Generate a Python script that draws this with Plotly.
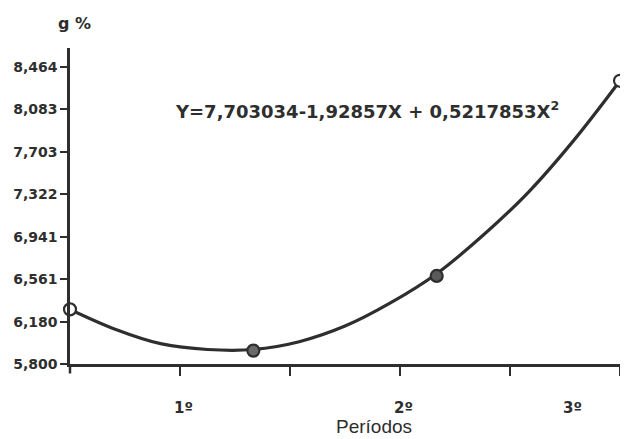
import plotly.graph_objects as go

# Observed points (period index X = 1..4)
point_x = [1, 2, 3, 4]
point_y = [6.29, 5.92, 6.59, 8.34]
point_fill = ["white", "#6a6a6a", "#5a5a5a", "white"]

# Fitted curve, values
curve_x = [1, 1.25, 1.5, 1.75, 2, 2.25, 2.5, 2.75, 3, 3.25, 3.5, 3.75, 4]
curve_y = [6.29, 6.11, 5.98, 5.93, 5.93, 6.00, 6.14, 6.35, 6.61, 6.95, 7.34, 7.81, 8.34]

y_ticks = [5.800, 6.180, 6.561, 6.941, 7.322, 7.703, 8.083, 8.464]
y_labels = ["5,800", "6,180", "6,561", "6,941", "7,322", "7,703", "8,083", "8,464"]

x_ticks = [1.6, 2.2, 2.8, 3.4, 4.0]
period_pos = [1.62, 2.82, 3.74]
period_labels = ["1º", "2º", "3º"]

ink = "#2e2e2e"
font_fam = "DejaVu Sans, Liberation Sans, sans-serif"
font_lab = "Liberation Sans, Arial, sans-serif"

fig = go.Figure()
fig.add_trace(go.Scatter(x=curve_x, y=curve_y, mode="lines",
                         line=dict(color=ink, width=3.2, shape="spline", smoothing=1.0),
                         hoverinfo="skip", showlegend=False, cliponaxis=False))
fig.add_trace(go.Scatter(x=point_x, y=point_y, mode="markers",
                         marker=dict(size=12, color=point_fill, line=dict(color=ink, width=2.2)),
                         showlegend=False, cliponaxis=False))

fig.update_xaxes(range=[1, 4.0], showline=True, linecolor=ink, linewidth=2.5,
                 tickmode="array", tickvals=x_ticks, showticklabels=False,
                 ticks="outside", ticklen=9, tickwidth=2.2, tickcolor=ink,
                 showgrid=False, zeroline=False)
fig.update_yaxes(range=[5.8, 8.634], showline=True, linecolor=ink, linewidth=2.5,
                 tickmode="array", tickvals=y_ticks, ticktext=["<b>%s</b>" % t for t in y_labels],
                 ticks="outside", ticklen=7, tickwidth=2, tickcolor=ink,
                 tickfont=dict(family=font_fam, size=14, color=ink),
                 showgrid=False, zeroline=False, automargin=False)

# y-axis line continues a little below the x-axis
fig.add_shape(type="line", xref="paper", yref="paper", x0=0, x1=0, y0=-0.03, y1=0,
              line=dict(color=ink, width=2.5))

for xp, lab in zip(period_pos, period_labels):
    fig.add_annotation(x=xp, y=0, xref="x", yref="paper", yshift=-44, yanchor="middle",
                       text="<b>%s</b>" % lab,
                       showarrow=False, font=dict(family=font_fam, size=15, color=ink))

fig.add_annotation(x=0.552, y=0, xref="paper", yref="paper", yshift=-62, yanchor="middle",
                   xanchor="center", text="Períodos",
                   showarrow=False, font=dict(family=font_lab, size=19, color=ink))
fig.add_annotation(x=0.009, y=1.0, xref="paper", yref="paper", yshift=25, yanchor="middle",
                   xanchor="center", text="<b>g %</b>",
                   showarrow=False, font=dict(family=font_fam, size=16, color=ink))
fig.add_annotation(x=0.187, y=8.08, xref="paper", yref="y", xanchor="left", yanchor="middle",
                   text="<b>Y=7,703034-1,92857X + 0,5217853X<sup>2</sup></b>",
                   showarrow=False, font=dict(family=font_fam, size=18, color=ink))

fig.update_layout(width=620, height=431, margin=dict(l=62, r=8, t=40, b=75),
                  paper_bgcolor="white", plot_bgcolor="white",
                  font=dict(family=font_fam, color=ink))

fig.write_html("out.html")
